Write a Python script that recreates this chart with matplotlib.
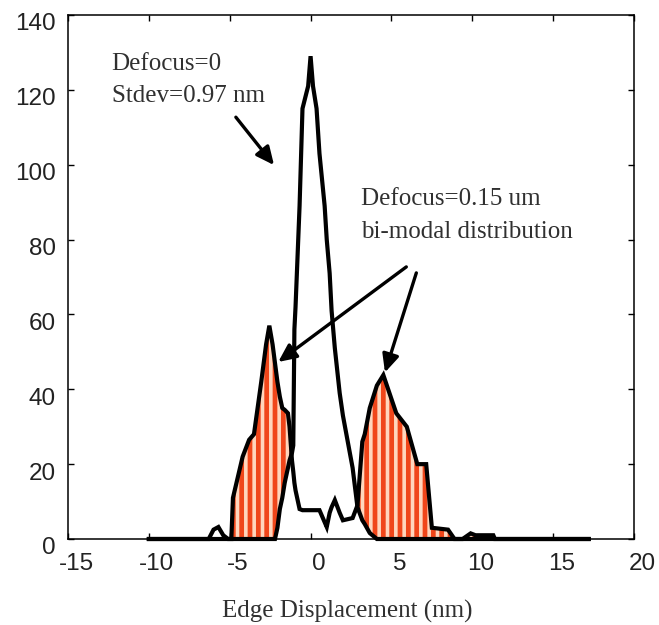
import numpy as np
import matplotlib
matplotlib.use("Agg")
import matplotlib.pyplot as plt
import matplotlib.transforms as mtransforms

# ---- data ----
edge_nm = [-10, -6.3, -6.0, -5.7, -5.4, -5.1, -4.9, -4.8, -4.2, -3.8, -3.5, -3.05,
           -2.75, -2.55, -2.35, -2.2, -2.05, -1.9, -1.75, -1.6, -1.4, -1.3, -1.15,
           -1.07, -1.0, -0.93, -0.68, -0.5, -0.15, 0.0, 0.15, 0.37, 0.55, 0.87, 1.0,
           1.18, 1.3, 1.5, 1.8, 2.0, 2.3, 2.6, 2.9, 3.2, 3.35, 3.66, 4.1, 4.5, 5.3,
           5.95, 6.6, 7.15, 7.5, 8.5, 8.9, 9.4, 9.9, 10.2, 11.3, 11.4, 17.2]

count_defocus0 = [0, 0, 2.5, 3.2, 1.0, 0, 0, 0, 0, 0, 0, 0,
                  0, 0, 0, 0, 3, 8, 11, 15, 19, 21, 23,
                  25, 56, 62, 89, 115, 121, 129, 121, 115, 103, 89, 80,
                  71, 61, 51, 39, 33, 26, 19, 8.5, 5, 4, 1.6, 0, 0, 0,
                  0, 0, 0, 0, 0, 0, 0, 0, 0, 0, 0, 0]

count_defocus015 = [0, 0, 0, 0, 0, 0, 0, 11, 22, 26.5, 28, 42,
                    52, 57, 52, 47, 42, 38, 35, 34.5, 33.6, 30, 21,
                    18, 15, 13, 8, 7.7, 7.7, 7.7, 7.7, 7.7, 7.7, 4.5, 3.2,
                    7, 8.5, 10.4, 7, 5, 5.3, 5.6, 9, 26, 28, 35, 41, 43.8, 33.6,
                    30, 20, 20, 3, 2.5, 0, 0, 1.5, 1.0, 1.0, 0, 0]

x_ticks = [-15, -10, -5, 0, 5, 10, 15, 20]
y_ticks = [0, 20, 40, 60, 80, 100, 120, 140]

x = np.array(edge_nm)
a = np.array(count_defocus0)
b = np.array(count_defocus015)

SERIF = ["Liberation Serif", "DejaVu Serif"]
SANS = ["Liberation Sans", "DejaVu Sans"]

plt.rcParams["hatch.linewidth"] = 2.6
plt.rcParams["axes.unicode_minus"] = False

fig = plt.figure(figsize=(6.59, 6.25), dpi=100)
ax = fig.add_axes([68 / 659, 1 - 539 / 625, (634 - 68) / 659, (539 - 15) / 625])

# filled region where the bi-modal distribution exceeds the focused one
ax.fill_between(x, a, b, where=b > a, interpolate=True,
                facecolor="#f0461a", edgecolor="#ffd6bd", hatch="||",
                linewidth=0, zorder=2)

ax.plot(x, b, color="black", lw=3.0, solid_joinstyle="miter", zorder=3, clip_on=False)
ax.plot(x, a, color="black", lw=3.0, solid_joinstyle="miter", zorder=3, clip_on=False)

ax.set_xlim(-15, 20)
ax.set_ylim(0, 140)
ax.set_xticks(x_ticks)
ax.set_yticks(y_ticks)
ax.tick_params(direction="in", length=4.5, width=1.0, top=True, right=True,
               labelsize=17.5, colors="black", labelcolor="#222222")
ax.tick_params(axis="y", pad=9)
ax.tick_params(axis="x", pad=10)
for lab in ax.get_xticklabels() + ax.get_yticklabels():
    lab.set_fontfamily(SANS)

dx = mtransforms.ScaledTranslation(8 / 100, 0, fig.dpi_scale_trans)
dy = mtransforms.ScaledTranslation(0, -7 / 100, fig.dpi_scale_trans)
for lab in ax.get_xticklabels():
    lab.set_transform(lab.get_transform() + dx)
for lab in ax.get_yticklabels():
    lab.set_transform(lab.get_transform() + dy)

for s in ax.spines.values():
    s.set_linewidth(1.1)
    s.set_color("black")

# annotations
txt_kw = dict(fontsize=18, family=SERIF, color="#303030", va="baseline", ha="left", zorder=5)
ax.text(-12.3, 125.3, "Defocus=0", **txt_kw)
ax.text(-12.3, 116.8, "Stdev=0.97 nm", **txt_kw)
ax.text(3.13, 89.2, "Defocus=0.15 um", **txt_kw)
ax.text(3.13, 80.4, "bi-modal distribution", **txt_kw)

arrow_kw = dict(arrowstyle="-|>,head_length=0.6,head_width=0.28", color="black",
                lw=2.4, mutation_scale=18, shrinkA=0, shrinkB=0)
ax.annotate("", xy=(-2.26, 99.9), xytext=(-4.62, 112.7), arrowprops=arrow_kw, zorder=6)
ax.annotate("", xy=(-2.0, 47.3), xytext=(5.92, 72.7), arrowprops=arrow_kw, zorder=6)
ax.annotate("", xy=(4.6, 44.5), xytext=(6.54, 71.1), arrowprops=arrow_kw, zorder=6)

fig.text(347 / 659, 1 - 618 / 625, "Edge Displacement (nm)", ha="center", va="baseline",
         fontsize=18, family=SERIF, color="#303030")

fig.savefig("out.png", dpi=100)
